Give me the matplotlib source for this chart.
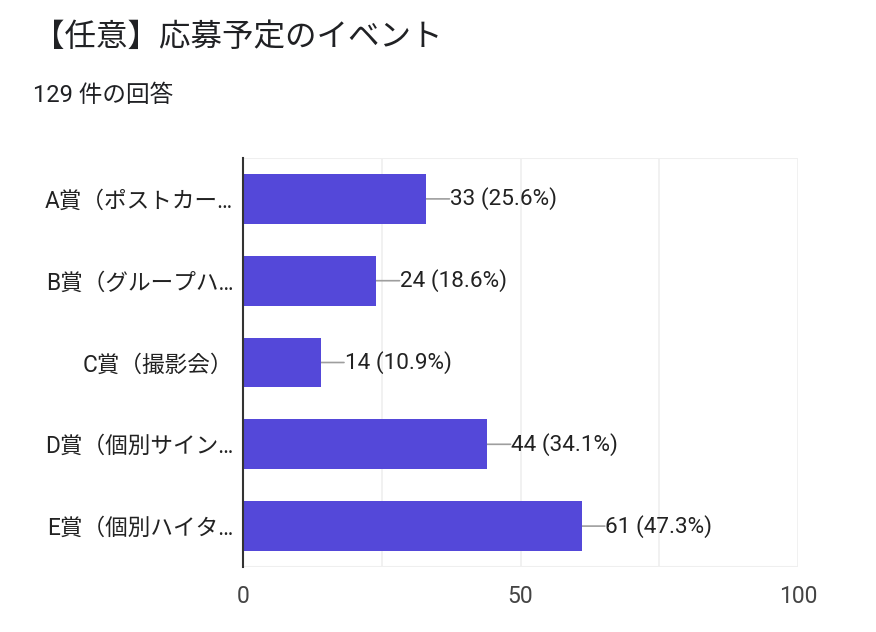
import matplotlib
matplotlib.use("Agg")
import matplotlib.pyplot as plt

plt.rcParams['font.family'] = ['Roboto', 'Noto Sans CJK JP', 'DejaVu Sans']

title = "【任意】応募予定のイベント"
subtitle = "129 件の回答"
categories = ["A賞（ポストカー…", "B賞（グループハ…", "C賞（撮影会）", "D賞（個別サイン…", "E賞（個別ハイタ…"]
counts = [33, 24, 14, 44, 61]
percents = [25.6, 18.6, 10.9, 34.1, 47.3]
xticks = [0, 50, 100]
grid_x = [25, 50, 75, 100]

bar_color = "#5448D9"

fig = plt.figure(figsize=(8.76, 6.32), dpi=100)
ax = fig.add_axes([243/876, 1-567/632, (798-243)/876, (567-158)/632])

y = list(range(len(categories)))
ax.barh(y, counts, height=0.61, color=bar_color, zorder=3)
ax.set_ylim(len(categories) - 0.5, -0.5)
ax.set_xlim(0, 100)

for g in grid_x:
    ax.axvline(g, color="#efefef", lw=1.2, zorder=1)
ax.axhline(-0.5, color="#efefef", lw=1.5, zorder=1)
ax.axhline(len(categories) - 0.5, color="#efefef", lw=1.5, zorder=1)

for yi, c, p in zip(y, counts, percents):
    ax.annotate("", xy=(c, yi), xytext=(c + 4.2, yi),
                arrowprops=dict(arrowstyle="-", color="#9e9e9e", lw=1.2,
                                shrinkA=0, shrinkB=0), zorder=2)
    ax.text(c + 4.3, yi, f"{c} ({p}%)", va="center", ha="left",
            fontsize=16.2, color="#222222")

for s in ["top", "right", "bottom"]:
    ax.spines[s].set_visible(False)
ax.spines["left"].set_color("#333333")
ax.spines["left"].set_linewidth(1.5)
ax.spines["left"].set_zorder(4)

ax.set_yticks(y)
ax.set_yticklabels(categories, fontsize=16.3, color="#222222")
ax.set_xticks(xticks)
ax.set_xticklabels([str(t) for t in xticks], fontsize=16.5, color="#444444")
ax.tick_params(axis="both", length=0)
ax.tick_params(axis="y", pad=7)
ax.tick_params(axis="x", pad=13)

fig.text(33/876, 1-37/632, title, fontsize=22.7, color="#202124",
         va="center", ha="left")
fig.text(33/876, 1-96/632, subtitle, fontsize=17, color="#202124",
         va="center", ha="left")

fig.savefig("out.png", dpi=100, facecolor="white")
